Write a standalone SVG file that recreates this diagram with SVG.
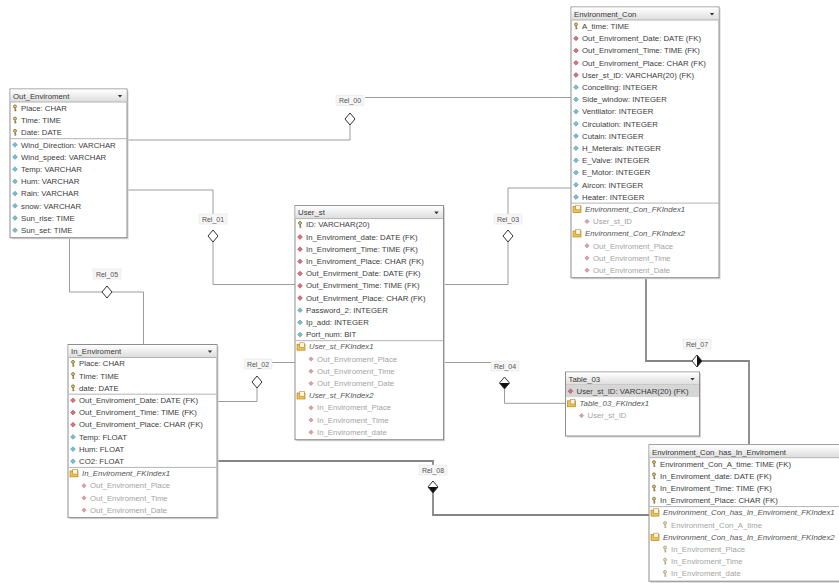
<svg xmlns="http://www.w3.org/2000/svg" xmlns:xlink="http://www.w3.org/1999/xlink" width="839" height="583" viewBox="0 0 839 583">
<style>
text{font-family:"Liberation Sans",Arial,sans-serif;font-size:7.8px;fill:#3c3c3c}
.hd{fill:#383838}
.ix{font-style:italic;fill:#555}
.ic{fill:#a4a4a4}
.rl{font-size:7px;fill:#555;text-anchor:middle}
.box{fill:#fff;stroke:#8e8e8e;stroke-width:1}
.sh{fill:#d2d2d2}
.sep{stroke:#b4b4b4;stroke-width:1}
.c1{fill:none;stroke:#9c9c9c;stroke-width:1}
.c2{fill:none;stroke:#858585;stroke-width:1.8}
.lb{fill:#f6f6f6;stroke:#e2e2e2;stroke-width:0.5}
</style>
<defs>
<linearGradient id="hg" x1="0" y1="0" x2="0" y2="1"><stop offset="0" stop-color="#ffffff"/><stop offset="1" stop-color="#dcdcdc"/></linearGradient>
<g id="key"><circle cx="0" cy="-1.8" r="1.5" fill="#e2c66a" stroke="#6e5c22" stroke-width="0.7"/><path d="M0,-0.3V3.2M0,2.3H1.4M0,1H1.1" stroke="#6e5c22" stroke-width="0.8" fill="none"/></g>
<g id="keyg"><circle cx="0" cy="-1.8" r="1.5" fill="#eadbb0" stroke="#a0956a" stroke-width="0.7"/><path d="M0,-0.3V3.2M0,2.3H1.4M0,1H1.1" stroke="#a0956a" stroke-width="0.8" fill="none"/></g>
<path id="fk" d="M0,-2.4L2.4,0L0,2.4L-2.4,0Z" fill="#d8707e" stroke="#9c3a4a" stroke-width="0.5"/>
<path id="col" d="M0,-2.4L2.4,0L0,2.4L-2.4,0Z" fill="#7cbccc" stroke="#3f88a0" stroke-width="0.5"/>
<path id="ixc" d="M0,-2.2L2.2,0L0,2.2L-2.2,0Z" fill="#dca0ac" stroke="#b06a78" stroke-width="0.4"/>
<g id="idx"><rect x="-4" y="-2.6" width="8" height="6" fill="#f2c14a" stroke="#a57a1c" stroke-width="0.6"/><rect x="-1.2" y="-4" width="4.6" height="4.6" fill="#fff6dc" stroke="#a57a1c" stroke-width="0.5"/></g>
<path id="arr" d="M-2.2,-1L2.2,-1L0,1.6Z" fill="#333"/>
<path id="dia" d="M0,-6L5,0L0,6L-5,0Z" fill="#fff" stroke="#333" stroke-width="1"/>
<g id="diaH"><path d="M-5,0L0,-6L5,0Z" fill="#fff"/><path d="M-5,0L5,0L0,6Z" fill="#111"/><path d="M0,-6L5,0L0,6L-5,0Z" fill="none" stroke="#333" stroke-width="1"/></g>
<g id="diaV"><path d="M0,-6L-5,0L0,6Z" fill="#fff"/><path d="M0,-6L5,0L0,6Z" fill="#111"/><path d="M0,-6L5,0L0,6L-5,0Z" fill="none" stroke="#333" stroke-width="1"/></g>
</defs>
<rect width="839" height="583" fill="#fff"/>

<g id="connectors">
<path class="c1" d="M571,97.5H365M350,125V140H127"/>
<path class="c1" d="M127,190H213V214M213,242V284.5H295"/>
<path class="c1" d="M571,188H508V214M508,242V284.5H443.5"/>
<path class="c1" d="M69.5,238V292H102M112,292H143.5V345"/>
<path class="c1" d="M216.7,401.5H257V388M272,362.5H295"/>
<path class="c1" d="M443.5,362.5H491M504.5,389V403.3H565.5"/>
<path class="c2" d="M646,277.7V361H692M702,361H749V444.5"/>
<path class="c2" d="M216.7,461H433V465M433,493V515H649"/>
<g id="rel00"><rect class="lb" x="336" y="95.5" width="28" height="10"/><text class="rl" x="350" y="103.3">Rel_00</text><use href="#dia" x="350" y="119"/></g>
<g id="rel01"><rect class="lb" x="199" y="214" width="28" height="10"/><text class="rl" x="213" y="221.5">Rel_01</text><use href="#dia" x="213" y="236"/></g>
<g id="rel03"><rect class="lb" x="494" y="214" width="28" height="10"/><text class="rl" x="508" y="221.5">Rel_03</text><use href="#dia" x="508" y="236"/></g>
<g id="rel05"><rect class="lb" x="93" y="269" width="28" height="10"/><text class="rl" x="107" y="276.5">Rel_05</text><use href="#dia" x="107" y="292"/></g>
<g id="rel02"><rect class="lb" x="244" y="359" width="28" height="10"/><text class="rl" x="258" y="366.5">Rel_02</text><use href="#dia" x="257" y="382"/></g>
<g id="rel04"><rect class="lb" x="491" y="361" width="28" height="10"/><text class="rl" x="505" y="368.5">Rel_04</text><use href="#diaH" x="504.5" y="383"/></g>
<g id="rel07"><rect class="lb" x="683" y="339" width="28" height="10"/><text class="rl" x="697" y="346.5">Rel_07</text><use href="#diaV" x="697" y="361"/></g>
<g id="rel08"><rect class="lb" x="419" y="465" width="28" height="10"/><text class="rl" x="433" y="472.5">Rel_08</text><use href="#diaH" x="433" y="487"/></g>
</g>

<g id="Out_Enviroment" transform="translate(10,96)">
<rect class="sh" x="1.5" y="-5.5" width="117" height="148.7"/>
<rect class="box" x="0" y="-7" width="117" height="148.7"/>
<rect x="0.5" y="-6.5" width="116" height="12.5" fill="url(#hg)"/>
<line class="sep" x1="0.5" y1="6" x2="116.5" y2="6"/>
<text class="hd" x="3" y="2.8">Out_Enviroment</text><use href="#arr" x="110" y="0"/>
<line class="sep" x1="0.5" y1="42.7" x2="116.5" y2="42.7"/>
<use href="#key" x="5" y="12.2"/><text x="11" y="14.9">Place: CHAR</text>
<use href="#key" x="5" y="24.4"/><text x="11" y="27.1">Time: TIME</text>
<use href="#key" x="5" y="36.6"/><text x="11" y="39.3">Date: DATE</text>
<use href="#col" x="5" y="48.8"/><text x="11" y="51.5">Wind_Direction: VARCHAR</text>
<use href="#col" x="5" y="61"/><text x="11" y="63.7">Wind_speed: VARCHAR</text>
<use href="#col" x="5" y="73.2"/><text x="11" y="75.9">Temp: VARCHAR</text>
<use href="#col" x="5" y="85.4"/><text x="11" y="88.1">Hum: VARCHAR</text>
<use href="#col" x="5" y="97.6"/><text x="11" y="100.3">Rain: VARCHAR</text>
<use href="#col" x="5" y="109.8"/><text x="11" y="112.5">snow: VARCHAR</text>
<use href="#col" x="5" y="122"/><text x="11" y="124.7">Sun_rise: TIME</text>
<use href="#col" x="5" y="134.2"/><text x="11" y="136.9">Sun_set: TIME</text>
</g>

<g id="Environment_Con" transform="translate(571,14)">
<rect class="sh" x="1.5" y="-5.5" width="148" height="270.7"/>
<rect class="box" x="0" y="-7" width="148" height="270.7"/>
<rect x="0.5" y="-6.5" width="147" height="12.5" fill="url(#hg)"/>
<line class="sep" x1="0.5" y1="6" x2="147.5" y2="6"/>
<text class="hd" x="3" y="2.8">Environment_Con</text><use href="#arr" x="141" y="0"/>
<line class="sep" x1="0.5" y1="189.1" x2="147.5" y2="189.1"/>
<use href="#key" x="5" y="12.2"/><text x="11" y="14.9">A_time: TIME</text>
<use href="#fk" x="5" y="24.4"/><text x="11" y="27.1">Out_Enviroment_Date: DATE (FK)</text>
<use href="#fk" x="5" y="36.6"/><text x="11" y="39.3">Out_Enviroment_Time: TIME (FK)</text>
<use href="#fk" x="5" y="48.8"/><text x="11" y="51.5">Out_Enviroment_Place: CHAR (FK)</text>
<use href="#fk" x="5" y="61"/><text x="11" y="63.7">User_st_ID: VARCHAR(20) (FK)</text>
<use href="#col" x="5" y="73.2"/><text x="11" y="75.9">Concelling: INTEGER</text>
<use href="#col" x="5" y="85.4"/><text x="11" y="88.1">Side_window: INTEGER</text>
<use href="#col" x="5" y="97.6"/><text x="11" y="100.3">Ventilator: INTEGER</text>
<use href="#col" x="5" y="109.8"/><text x="11" y="112.5">Circulation: INTEGER</text>
<use href="#col" x="5" y="122"/><text x="11" y="124.7">Cutain: INTEGER</text>
<use href="#col" x="5" y="134.2"/><text x="11" y="136.9">H_Meterals: INTEGER</text>
<use href="#col" x="5" y="146.4"/><text x="11" y="149.1">E_Valve: INTEGER</text>
<use href="#col" x="5" y="158.6"/><text x="11" y="161.3">E_Motor: INTEGER</text>
<use href="#col" x="5" y="170.8"/><text x="11" y="173.5">Aircon: INTEGER</text>
<use href="#col" x="5" y="183"/><text x="11" y="185.7">Heater: INTEGER</text>
<use href="#idx" x="6" y="195.2"/><text class="ix" x="14" y="197.9">Environment_Con_FKIndex1</text>
<use href="#ixc" x="16" y="207.4"/><text class="ic" x="22" y="210.1">User_st_ID</text>
<use href="#idx" x="6" y="219.6"/><text class="ix" x="14" y="222.3">Environment_Con_FKIndex2</text>
<use href="#ixc" x="16" y="231.8"/><text class="ic" x="22" y="234.5">Out_Enviroment_Place</text>
<use href="#ixc" x="16" y="244"/><text class="ic" x="22" y="246.7">Out_Enviroment_Time</text>
<use href="#ixc" x="16" y="256.2"/><text class="ic" x="22" y="258.9">Out_Enviroment_Date</text>
</g>

<g id="User_st" transform="translate(295,212.6)">
<rect class="sh" x="1.5" y="-5.5" width="148.5" height="234.1"/>
<rect class="box" x="0" y="-7" width="148.5" height="234.1"/>
<rect x="0.5" y="-6.5" width="147.5" height="12.5" fill="url(#hg)"/>
<line class="sep" x1="0.5" y1="6" x2="148" y2="6"/>
<text class="hd" x="3" y="2.8">User_st</text><use href="#arr" x="141.5" y="0"/>
<line class="sep" x1="0.5" y1="128.1" x2="148" y2="128.1"/>
<use href="#key" x="5" y="12.2"/><text x="11" y="14.9">ID: VARCHAR(20)</text>
<use href="#fk" x="5" y="24.4"/><text x="11" y="27.1">In_Enviroment_date: DATE (FK)</text>
<use href="#fk" x="5" y="36.6"/><text x="11" y="39.3">In_Enviroment_Time: TIME (FK)</text>
<use href="#fk" x="5" y="48.8"/><text x="11" y="51.5">In_Enviroment_Place: CHAR (FK)</text>
<use href="#fk" x="5" y="61"/><text x="11" y="63.7">Out_Envirment_Date: DATE (FK)</text>
<use href="#fk" x="5" y="73.2"/><text x="11" y="75.9">Out_Envirment_Time: TIME (FK)</text>
<use href="#fk" x="5" y="85.4"/><text x="11" y="88.1">Out_Envirment_Place: CHAR (FK)</text>
<use href="#col" x="5" y="97.6"/><text x="11" y="100.3">Password_2: INTEGER</text>
<use href="#col" x="5" y="109.8"/><text x="11" y="112.5">Ip_add: INTEGER</text>
<use href="#col" x="5" y="122"/><text x="11" y="124.7">Port_num: BIT</text>
<use href="#idx" x="6" y="134.2"/><text class="ix" x="14" y="136.9">User_st_FKIndex1</text>
<use href="#ixc" x="16" y="146.4"/><text class="ic" x="22" y="149.1">Out_Enviroment_Place</text>
<use href="#ixc" x="16" y="158.6"/><text class="ic" x="22" y="161.3">Out_Enviroment_Time</text>
<use href="#ixc" x="16" y="170.8"/><text class="ic" x="22" y="173.5">Out_Enviroment_Date</text>
<use href="#idx" x="6" y="183"/><text class="ix" x="14" y="185.7">User_st_FKIndex2</text>
<use href="#ixc" x="16" y="195.2"/><text class="ic" x="22" y="197.9">In_Enviroment_Place</text>
<use href="#ixc" x="16" y="207.4"/><text class="ic" x="22" y="210.1">In_Enviroment_Time</text>
<use href="#ixc" x="16" y="219.6"/><text class="ic" x="22" y="222.3">In_Enviroment_date</text>
</g>

<g id="In_Enviroment" transform="translate(68,351.5)">
<rect class="sh" x="1.5" y="-5.5" width="149" height="173.1"/>
<rect class="box" x="0" y="-7" width="149" height="173.1"/>
<rect x="0.5" y="-6.5" width="148" height="12.5" fill="url(#hg)"/>
<line class="sep" x1="0.5" y1="6" x2="148.5" y2="6"/>
<text class="hd" x="3" y="2.8">In_Enviroment</text><use href="#arr" x="142" y="0"/>
<line class="sep" x1="0.5" y1="42.7" x2="148.5" y2="42.7"/>
<line class="sep" x1="0.5" y1="115.9" x2="148.5" y2="115.9"/>
<use href="#key" x="5" y="12.2"/><text x="11" y="14.9">Place: CHAR</text>
<use href="#key" x="5" y="24.4"/><text x="11" y="27.1">Time: TIME</text>
<use href="#key" x="5" y="36.6"/><text x="11" y="39.3">date: DATE</text>
<use href="#fk" x="5" y="48.8"/><text x="11" y="51.5">Out_Enviroment_Date: DATE (FK)</text>
<use href="#fk" x="5" y="61"/><text x="11" y="63.7">Out_Enviroment_Time: TIME (FK)</text>
<use href="#fk" x="5" y="73.2"/><text x="11" y="75.9">Out_Enviroment_Place: CHAR (FK)</text>
<use href="#col" x="5" y="85.4"/><text x="11" y="88.1">Temp: FLOAT</text>
<use href="#col" x="5" y="97.6"/><text x="11" y="100.3">Hum: FLOAT</text>
<use href="#col" x="5" y="109.8"/><text x="11" y="112.5">CO2: FLOAT</text>
<use href="#idx" x="6" y="122"/><text class="ix" x="14" y="124.7">In_Enviroment_FKIndex1</text>
<use href="#ixc" x="16" y="134.2"/><text class="ic" x="22" y="136.9">Out_Enviroment_Place</text>
<use href="#ixc" x="16" y="146.4"/><text class="ic" x="22" y="149.1">Out_Enviroment_Time</text>
<use href="#ixc" x="16" y="158.6"/><text class="ic" x="22" y="161.3">Out_Enviroment_Date</text>
</g>

<g id="Table_03" transform="translate(565.5,379)">
<rect class="sh" x="1.5" y="-5.5" width="134" height="64"/>
<rect class="box" x="0" y="-7" width="134" height="64"/>
<rect x="0.5" y="-6.5" width="133" height="12.5" fill="url(#hg)"/>
<line class="sep" x1="0.5" y1="6" x2="133.5" y2="6"/>
<text class="hd" x="3" y="2.8">Table_03</text><use href="#arr" x="127" y="0"/>
<rect x="0.5" y="6.3" width="133" height="11.8" fill="#d6d6d6"/>
<use href="#fk" x="5" y="12.2"/><text x="11" y="14.9">User_st_ID: VARCHAR(20) (FK)</text>
<use href="#idx" x="6" y="24.4"/><text class="ix" x="14" y="27.1">Table_03_FKIndex1</text>
<use href="#ixc" x="16" y="36.6"/><text class="ic" x="22" y="39.3">User_st_ID</text>
</g>

<g id="Environment_Con_has_In_Enviroment" transform="translate(649,451.7)">
<rect class="sh" x="1.5" y="-5.5" width="200" height="136.5"/>
<rect class="box" x="0" y="-7" width="200" height="136.5"/>
<rect x="0.5" y="-6.5" width="199" height="12.5" fill="url(#hg)"/>
<line class="sep" x1="0.5" y1="6" x2="199.5" y2="6"/>
<text class="hd" x="3" y="2.8">Environment_Con_has_In_Enviroment</text>
<line class="sep" x1="0.5" y1="54.9" x2="199.5" y2="54.9"/>
<use href="#key" x="5" y="12.2"/><text x="11" y="14.9">Environment_Con_A_time: TIME (FK)</text>
<use href="#key" x="5" y="24.4"/><text x="11" y="27.1">In_Enviroment_date: DATE (FK)</text>
<use href="#key" x="5" y="36.6"/><text x="11" y="39.3">In_Enviroment_Time: TIME (FK)</text>
<use href="#key" x="5" y="48.8"/><text x="11" y="51.5">In_Enviroment_Place: CHAR (FK)</text>
<use href="#idx" x="6" y="61"/><text class="ix" x="14" y="63.7">Environment_Con_has_In_Enviroment_FKIndex1</text>
<use href="#keyg" x="16" y="73.2"/><text class="ic" x="22" y="75.9">Environment_Con_A_time</text>
<use href="#idx" x="6" y="85.4"/><text class="ix" x="14" y="88.1">Environment_Con_has_In_Enviroment_FKIndex2</text>
<use href="#keyg" x="16" y="97.6"/><text class="ic" x="22" y="100.3">In_Enviroment_Place</text>
<use href="#keyg" x="16" y="109.8"/><text class="ic" x="22" y="112.5">In_Enviroment_Time</text>
<use href="#keyg" x="16" y="122"/><text class="ic" x="22" y="124.7">In_Enviroment_date</text>
</g>
</svg>
